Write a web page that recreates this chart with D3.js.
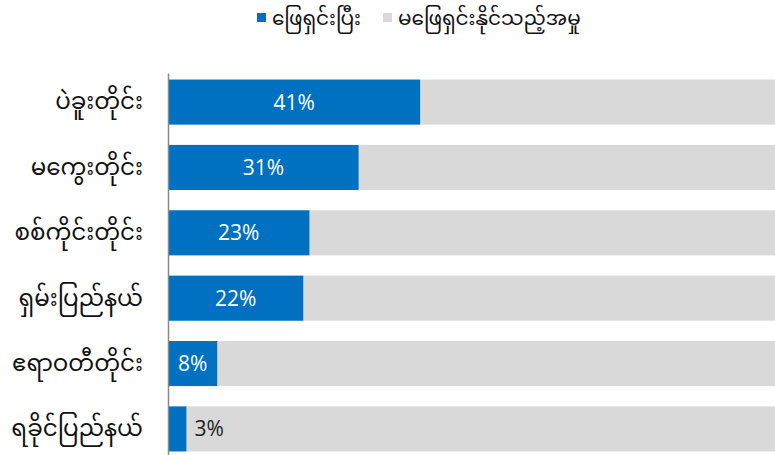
<!DOCTYPE html>
<html>
<head>
<meta charset="utf-8">
<script src="https://cdn.jsdelivr.net/npm/d3@7"></script>
<style>
  body { margin: 0; background: #fff; }
  svg { display: block; }
  text { font-family: "Noto Sans Myanmar", "Myanmar Text", "Padauk", "Noto Sans", "DejaVu Sans", sans-serif; }
  .pct { font-family: "Open Sans", "Noto Sans", sans-serif; }
</style>
</head>
<body>
<div id="chart"></div>
<script>
// données
const regions = ["ပဲခူးတိုင်း", "မကွေးတိုင်း", "စစ်ကိုင်းတိုင်း", "ရှမ်းပြည်နယ်", "ဧရာဝတီတိုင်း", "ရခိုင်ပြည်နယ်"];
const answered = [41, 31, 23, 22, 8, 3];
const seriesNames = ["ဖြေရှင်းပြီး", "မဖြေရှင်းနိုင်သည့်အမှု"];
const colors = ["#0070C0", "#D9D9D9"];

const width = 775, height = 455;

const svg = d3.select("#chart").append("svg")
    .attr("width", width)
    .attr("height", height);

const x = d3.scaleLinear().domain([0, 100]).range([168, 783]);
const y = d3.scaleBand().domain(regions).range([73, 458])
    .paddingInner(0.31).paddingOuter(0.1);

// barres grises (reste)
svg.append("g").selectAll("rect")
    .data(regions)
    .join("rect")
    .attr("x", (d, i) => x(answered[i]))
    .attr("y", d => y(d))
    .attr("width", (d, i) => x(100) - x(answered[i]))
    .attr("height", y.bandwidth())
    .attr("fill", colors[1]);

// barres bleues
svg.append("g").selectAll("rect")
    .data(regions)
    .join("rect")
    .attr("x", x(0))
    .attr("y", d => y(d))
    .attr("width", (d, i) => x(answered[i]) - x(0))
    .attr("height", y.bandwidth())
    .attr("fill", colors[0]);

// étiquettes de valeur
svg.append("g").selectAll("text")
    .data(regions)
    .join("text")
    .attr("class", "pct")
    .attr("x", (d, i) => answered[i] < 5 ? x(answered[i]) + 8 : (x(0) + x(answered[i])) / 2)
    .attr("y", d => y(d) + y.bandwidth() / 2)
    .attr("dy", "0.36em")
    .attr("text-anchor", (d, i) => answered[i] < 5 ? "start" : "middle")
    .attr("font-size", 21)
    .attr("fill", (d, i) => answered[i] < 5 ? "#222" : "#fff")
    .text((d, i) => answered[i] + "%");

// axe vertical
const yAxis = svg.append("g")
    .attr("transform", `translate(${x(0)},0)`)
    .call(d3.axisLeft(y).tickSize(0).tickPadding(25));
yAxis.select(".domain").attr("stroke", "#888").attr("stroke-width", 1.5);
yAxis.selectAll("text")
    .attr("font-size", 23)
    .attr("fill", "#111")
    .style("font-family", null);

// légende
const legend = svg.append("g");
const lx = [257, 383];
seriesNames.forEach((name, i) => {
    legend.append("rect")
        .attr("x", lx[i]).attr("y", 13)
        .attr("width", 9).attr("height", 9)
        .attr("fill", colors[i]);
    legend.append("text")
        .attr("x", lx[i] + 15).attr("y", 18)
        .attr("dy", "0.36em")
        .attr("font-size", 20)
        .attr("fill", "#111")
        .text(name);
});
</script>
</body>
</html>
